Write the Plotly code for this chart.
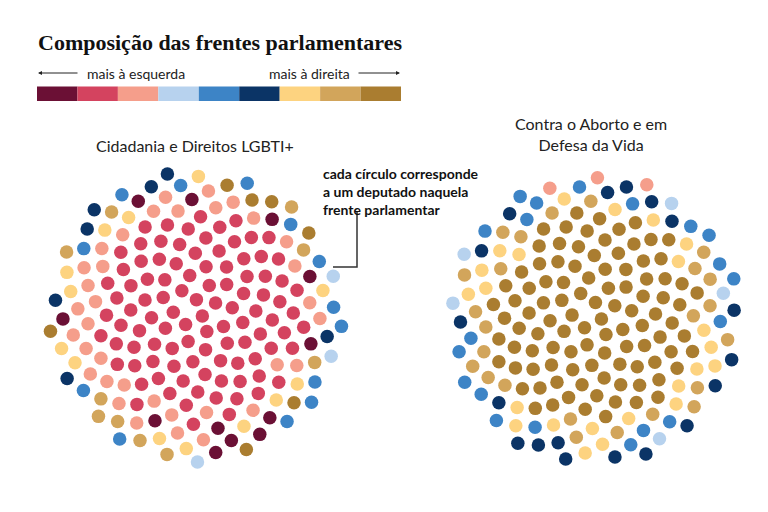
import math
import plotly.graph_objects as go

# ---------------- data ----------------
orientation_colors = ["#6b1035", "#d4435f", "#f59e8b", "#b7d2ee", "#3d84c6",
                      "#0b3466", "#fdd380", "#d2a55b", "#aa7d30"]
fronts = ["Cidadania e Direitos LGBTI+", "Contra o Aborto e em<br>Defesa da Vida"]
lgbti_counts = [12, 100, 35, 3, 13, 7, 13, 10, 7]
aborto_counts = [0, 0, 3, 5, 20, 18, 23, 24, 100]
legend_left = "mais à esquerda"
legend_right = "mais à direita"
title = "Composição das frentes parlamentares"
note = "cada círculo corresponde<br>a um deputado naquela<br>frente parlamentar"

# ------------- layout parameters (radial bands per colour) -------------
lgbti_bands = [(0.555, 0.905), (0.0, 0.52), (0.42, 0.74), (0.92, 1.0), (0.80, 1.0),
               (0.84, 1.0), (0.62, 0.92), (0.72, 1.0), (0.78, 1.0)]
aborto_bands = [(0, 1), (0, 1), (0.88, 1.0), (0.835, 1.0), (0.72, 1.0),
                (0.78, 1.0), (0.45, 0.88), (0.45, 0.90), (0.0, 0.52)]

GOLD = math.pi * (3 - math.sqrt(5))


def sunflower(counts, bands, cx, cy, R):
    keys = []
    for g, (n, (a, b)) in enumerate(zip(counts, bands)):
        for k in range(n):
            keys.append((a + (b - a) * (k + 0.5) / n, g))
    keys.sort()
    N = len(keys)
    xs, ys, cs = [], [], []
    for i, (_, g) in enumerate(keys):
        r = R * math.sqrt((i + 0.5) / N)
        t = i * GOLD
        xs.append(cx + r * math.cos(t))
        ys.append(cy + r * math.sin(t))
        cs.append(orientation_colors[g])
    return xs, ys, cs


fig = go.Figure()
for counts, bands, cx, cy, R in [(lgbti_counts, lgbti_bands, 195, 316, 147),
                                 (aborto_counts, aborto_bands, 594, 319, 146)]:
    xs, ys, cs = sunflower(counts, bands, cx, cy, R)
    fig.add_trace(go.Scatter(x=xs, y=ys, mode="markers", hoverinfo="skip",
                             marker=dict(size=13.5, color=cs, line=dict(width=0))))

shapes = []
bx0, bw = 37, (401 - 37) / len(orientation_colors)
for i, c in enumerate(orientation_colors):
    shapes.append(dict(type="rect", xref="x", yref="y", x0=bx0 + i * bw, x1=bx0 + (i + 1) * bw,
                       y0=86.5, y1=101, fillcolor=c, line=dict(width=0), layer="below"))
# connector of the note
shapes.append(dict(type="path", xref="x", yref="y", path="M 333 267 L 357 267 L 357 211",
                   line=dict(color="#333333", width=1.5)))

sans = "Lato"
ann = [
    dict(x=36, y=42, text="<b>" + title + "</b>", xanchor="left", yanchor="middle",
         font=dict(family="Liberation Serif", size=22, color="#111111")),
    dict(x=85, y=73, text=legend_left, xanchor="left", yanchor="middle",
         font=dict(family=sans, size=14, color="#222222")),
    dict(x=352, y=73, text=legend_right, xanchor="right", yanchor="middle",
         font=dict(family=sans, size=14, color="#222222")),
    dict(x=195, y=145, text=fronts[0], xanchor="center", yanchor="middle",
         font=dict(family=sans, size=16, color="#222222")),
    dict(x=591, y=134, text=fronts[1], xanchor="center", yanchor="middle",
         font=dict(family=sans, size=16, color="#222222")),
    dict(x=321, y=163, text="<b>" + note + "</b>", xanchor="left", yanchor="top", align="left",
         font=dict(family=sans, size=14, color="#111111")),
]
# arrows
ann.append(dict(x=38, y=73, ax=79, ay=73, xref="x", yref="y", axref="x", ayref="y", text="",
                showarrow=True, arrowhead=2, arrowsize=0.8, arrowwidth=1, arrowcolor="#222222"))
ann.append(dict(x=400, y=73, ax=357, ay=73, xref="x", yref="y", axref="x", ayref="y", text="",
                showarrow=True, arrowhead=2, arrowsize=0.8, arrowwidth=1, arrowcolor="#222222"))
for a in ann:
    a.setdefault("showarrow", False)
    a.setdefault("xref", "x")
    a.setdefault("yref", "y")

# the page body has an 8px margin: shift the pixel-unit axes to compensate
OFF = 8
fig.update_layout(width=768, height=512, margin=dict(l=0, r=0, t=0, b=0),
                  paper_bgcolor="white", plot_bgcolor="white", showlegend=False,
                  shapes=shapes, annotations=ann,
                  xaxis=dict(range=[OFF, 768 + OFF], visible=False, fixedrange=True),
                  yaxis=dict(range=[512 + OFF, OFF], visible=False, fixedrange=True))
fig.write_html("out.html", config={"displayModeBar": False})
